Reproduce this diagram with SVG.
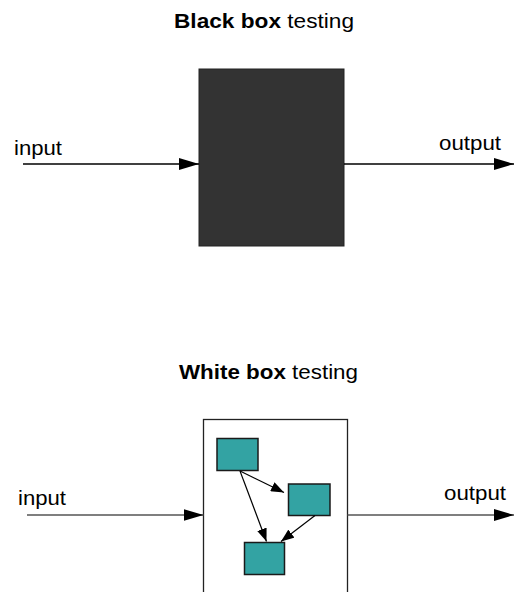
<svg xmlns="http://www.w3.org/2000/svg" width="514" height="592" viewBox="0 0 514 592">
  <defs>
    <marker id="bigArrow" markerWidth="20" markerHeight="12" refX="20" refY="6" orient="auto" markerUnits="userSpaceOnUse">
      <path d="M0,0 L20,6 L0,12 Z" fill="#000"/>
    </marker>
    <marker id="smallArrow" markerWidth="13" markerHeight="10" refX="13" refY="5" orient="auto" markerUnits="userSpaceOnUse">
      <path d="M0,0 L13,5 L0,10 Z" fill="#000"/>
    </marker>
  </defs>
  <style>
    text { font-family: "Liberation Sans", Arial, sans-serif; font-size: 21px; fill: #000; }
    .b { font-weight: bold; }
    .flow { stroke: #000; stroke-width: 1.5; fill: none; marker-end: url(#bigArrow); }
    .flow.grey { stroke: #555; }
    .inner { stroke: #000; stroke-width: 1.2; fill: none; marker-end: url(#smallArrow); }
    .unit { fill: #33a3a3; stroke: #1a1a1a; stroke-width: 1.5; }
  </style>

  <!-- Black box section -->
  <text x="174" y="28" textLength="180" lengthAdjust="spacingAndGlyphs"><tspan class="b">Black box</tspan> testing</text>
  <g id="blackbox">
    <rect x="199" y="69" width="145" height="177" fill="#333" stroke="#222" stroke-width="1"/>
  </g>
  <g id="bb-input-label"><text x="14" y="155" textLength="48" lengthAdjust="spacingAndGlyphs">input</text></g>
  <g id="bb-output-label"><text x="439" y="150" textLength="62" lengthAdjust="spacingAndGlyphs">output</text></g>
  <g id="bb-connectors">
    <line class="flow" x1="23" y1="164" x2="199" y2="164"/>
    <line class="flow" x1="344" y1="164" x2="514" y2="164"/>
  </g>

  <!-- White box section -->
  <text x="179" y="379" textLength="179" lengthAdjust="spacingAndGlyphs"><tspan class="b">White box</tspan> testing</text>
  <g id="whitebox">
    <rect x="203.5" y="419.5" width="144" height="190" fill="#fff" stroke="#222" stroke-width="1.3"/>
  </g>
  <g id="unit-a"><rect class="unit" x="217" y="438.5" width="41" height="32"/></g>
  <g id="unit-b"><rect class="unit" x="288.5" y="484" width="41.5" height="31.5"/></g>
  <g id="unit-c"><rect class="unit" x="244.5" y="542.5" width="40" height="32"/></g>
  <g id="wb-input-label"><text x="18" y="505" textLength="48" lengthAdjust="spacingAndGlyphs">input</text></g>
  <g id="wb-output-label"><text x="444" y="500" textLength="62" lengthAdjust="spacingAndGlyphs">output</text></g>
  <g id="wb-connectors">
    <line class="flow grey" x1="27" y1="515" x2="203.5" y2="515"/>
    <line class="flow grey" x1="347.5" y1="515" x2="514" y2="515"/>
    <line class="inner" x1="240" y1="471" x2="284" y2="492.5"/>
    <line class="inner" x1="240" y1="471" x2="266.5" y2="541.5"/>
    <line class="inner" x1="315" y1="515.5" x2="281" y2="541.5"/>
  </g>
</svg>
